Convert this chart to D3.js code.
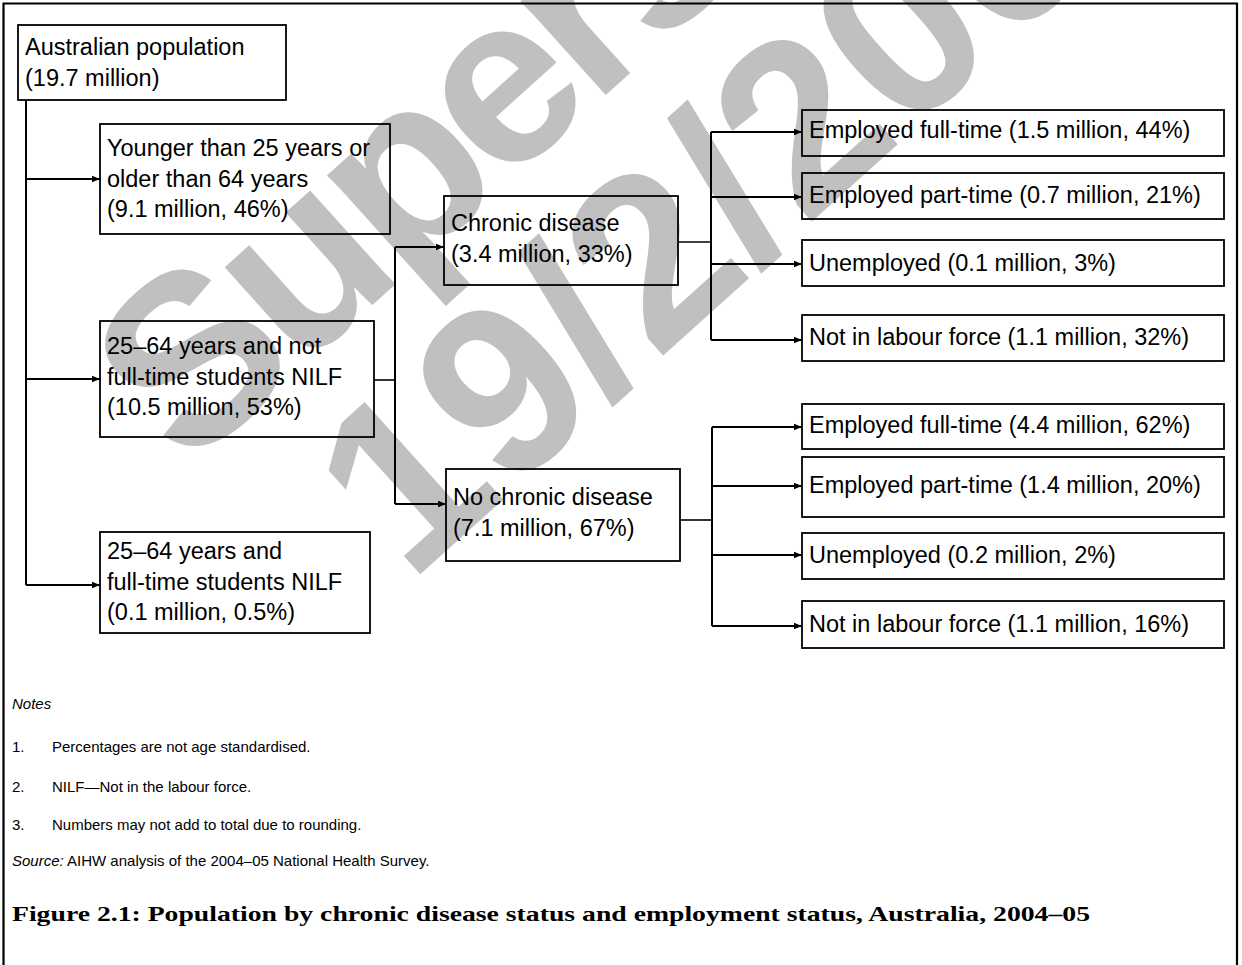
<!DOCTYPE html>
<html>
<head>
<meta charset="utf-8">
<script src="https://cdn.jsdelivr.net/npm/d3@7"></script>
<style>
  body { margin: 0; background: #fff; }
</style>
</head>
<body>
<svg id="chart" width="1242" height="965"></svg>
<script>
// ---- data ----
const totalMillions = 19.7;
const ageLabels = [
  ["Younger than 25 years or", "older than 64 years"],
  ["25–64 years and not", "full-time students NILF"],
  ["25–64 years and", "full-time students NILF"]
];
const ageMillions = [9.1, 10.5, 0.1];
const agePercents = ["46%", "53%", "0.5%"];
const diseaseLabels = ["Chronic disease", "No chronic disease"];
const diseaseMillions = [3.4, 7.1];
const diseasePercents = ["33%", "67%"];
const employmentLabels = ["Employed full-time", "Employed part-time", "Unemployed", "Not in labour force"];
const chronicMillions = [1.5, 0.7, 0.1, 1.1];
const chronicPercents = ["44%", "21%", "3%", "32%"];
const noChronicMillions = [4.4, 1.4, 0.2, 1.1];
const noChronicPercents = ["62%", "20%", "2%", "16%"];
const noteLines = [
  "Percentages are not age standardised.",
  "NILF—Not in the labour force.",
  "Numbers may not add to total due to rounding."
];
const sourceText = "AIHW analysis of the 2004–05 National Health Survey.";
const titleText = "Figure 2.1: Population by chronic disease status and employment status, Australia, 2004–05";
const watermarkLines = ["Superseded", "19/2/2008"];

// ---- layout ----
const sans = "'Liberation Sans', Arial, sans-serif";
const lineGap = 30.5;
const colX = d3.scaleOrdinal().domain(["root", "age", "disease", "job"]).range([18, 100, 444, 802]);
const colW = { root: 268, age: [290, 274, 270], disease: [234, 234], job: 422 };
// y scale is identity in page pixels
const y = d3.scaleLinear().domain([0, 965]).range([0, 965]);

const ageRows = [
  { top: 124, bottom: 234, base: 32, arrow: 179 },
  { top: 321, bottom: 437, base: 33, arrow: 379 },
  { top: 532, bottom: 633, base: 27, arrow: 585 }
];
const diseaseRows = [
  { top: 196, bottom: 285, base: 35, arrow: 247, stub: 242 },
  { top: 469, bottom: 561, base: 36, arrow: 504, stub: 520 }
];
const jobRows = [
  [
    { top: 110, bottom: 156, base: 28, arrow: 132 },
    { top: 173, bottom: 219, base: 30, arrow: 197 },
    { top: 240, bottom: 286, base: 31, arrow: 264 },
    { top: 315, bottom: 361, base: 30, arrow: 340 }
  ],
  [
    { top: 404, bottom: 449, base: 29, arrow: 427 },
    { top: 457, bottom: 517, base: 36, arrow: 486 },
    { top: 533, bottom: 579, base: 30, arrow: 555 },
    { top: 601, bottom: 648, base: 31, arrow: 626 }
  ]
];

const svg = d3.select("#chart");

svg.append("defs").append("marker")
  .attr("id", "head")
  .attr("viewBox", "0 0 8 8")
  .attr("refX", 8).attr("refY", 4)
  .attr("markerUnits", "userSpaceOnUse")
  .attr("markerWidth", 8).attr("markerHeight", 8)
  .attr("orient", "auto")
  .append("path").attr("d", "M0,0.8 L8,4 L0,7.2 Z").attr("fill", "#000");

// watermark behind everything
const wm = svg.append("g")
  .attr("transform", "translate(187,472) rotate(-42)")
  .attr("fill", "#c0c0c0")
  .style("font", `bold 240px ${sans}`);
wm.selectAll("text").data(watermarkLines).join("text")
  .attr("x", (d, i) => i * 90)
  .attr("y", (d, i) => i * 232)
  .attr("letter-spacing", (d, i) => i ? 0 : -10)
  .text(d => d);

// outer frame (runs off the bottom)
svg.append("path")
  .attr("d", "M3.5,980 V3.5 H1237 V980")
  .attr("fill", "none").attr("stroke", "#000").attr("stroke-width", 2.2);

function box(x, top, w, bottom, lines, base) {
  const g = svg.append("g");
  g.append("rect")
    .attr("x", x).attr("y", y(top))
    .attr("width", w).attr("height", y(bottom) - y(top))
    .attr("fill", "none").attr("stroke", "#000").attr("stroke-width", 1.8);
  g.selectAll("text").data(lines).join("text")
    .attr("x", x + 7)
    .attr("y", (d, i) => y(top + base + i * lineGap))
    .style("font", `23.5px ${sans}`)
    .attr("fill", "#000")
    .text(d => d);
}

function line(x1, y1, x2, y2, arrow, width) {
  const l = svg.append("line")
    .attr("x1", x1).attr("y1", y(y1)).attr("x2", x2).attr("y2", y(y2))
    .attr("stroke", "#000").attr("stroke-width", width || 2);
  if (arrow) l.attr("marker-end", "url(#head)");
}

// root
box(colX("root"), 25, colW.root, 100, ["Australian population", `(${totalMillions} million)`], 30);

// age groups
const trunkX = 26;
line(trunkX, 100, trunkX, ageRows[2].arrow);
ageRows.forEach((r, i) => {
  box(colX("age"), r.top, colW.age[i], r.bottom,
    [...ageLabels[i], `(${ageMillions[i]} million, ${agePercents[i]})`], r.base);
  line(trunkX, r.arrow, colX("age"), r.arrow, true);
});

// disease split from the 25–64 not-students box
const midX = 395;
line(colX("age") + colW.age[1], 380, midX, 380, false, 1.6);
line(midX, diseaseRows[0].arrow, midX, diseaseRows[1].arrow);
diseaseRows.forEach((r, i) => {
  const bx = colX("disease") + i * 2;
  box(bx, r.top, colW.disease[i], r.bottom,
    [diseaseLabels[i], `(${diseaseMillions[i]} million, ${diseasePercents[i]})`], r.base);
  line(midX, r.arrow, bx, r.arrow, true);
});

// employment status per disease group
const jobMillions = [chronicMillions, noChronicMillions];
const jobPercents = [chronicPercents, noChronicPercents];
diseaseRows.forEach((r, k) => {
  const splitX = 711 + k;
  const rows = jobRows[k];
  line(colX("disease") + k * 2 + colW.disease[k], r.stub, splitX, r.stub, false, 1.6);
  line(splitX, rows[0].arrow, splitX, rows[rows.length - 1].arrow);
  rows.forEach((jr, i) => {
    box(colX("job"), jr.top, colW.job, jr.bottom,
      [`${employmentLabels[i]} (${jobMillions[k][i]} million, ${jobPercents[k][i]})`], jr.base);
    line(splitX, jr.arrow, colX("job"), jr.arrow, true);
  });
});

// notes
const notes = svg.append("g").style("font", `15px ${sans}`).attr("fill", "#000");
notes.append("text").attr("x", 12).attr("y", 709).style("font-style", "italic").text("Notes");
const noteY = [752, 792, 830];
noteLines.forEach((t, i) => {
  notes.append("text").attr("x", 12).attr("y", noteY[i]).text(`${i + 1}.`);
  notes.append("text").attr("x", 52).attr("y", noteY[i]).text(t);
});
const src = notes.append("text").attr("x", 12).attr("y", 866);
src.append("tspan").style("font-style", "italic").text("Source:");
src.append("tspan").text(" " + sourceText);

svg.append("text")
  .attr("x", 12).attr("y", 921)
  .style("font", "bold 22px 'Liberation Serif', 'DejaVu Serif', serif")
  .attr("textLength", 1078).attr("lengthAdjust", "spacingAndGlyphs")
  .text(titleText);
</script>
</body>
</html>
